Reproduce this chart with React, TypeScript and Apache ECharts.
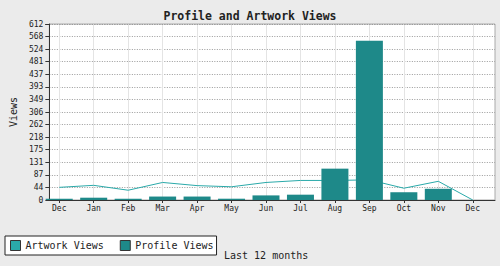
import React, { useEffect, useRef } from "react";
import * as echarts from "echarts";

const categories = ["Dec", "Jan", "Feb", "Mar", "Apr", "May", "Jun", "Jul", "Aug", "Sep", "Oct", "Nov", "Dec"];
const artworkViews = [44, 51, 34, 61, 50, 46, 61, 68, 68, 70, 41, 65, 0];
const profileViews = [4.5, 8, 4.5, 12, 12, 4.5, 16, 18.5, 109, 554, 27, 39, 0];
const yTickLabels = ["0", "44", "87", "131", "175", "218", "262", "306", "349", "393", "437", "481", "524", "568", "612"];
const yMax = 612;

const FONT = "DejaVu Sans Mono";

export default function App() {
  const ref = useRef<HTMLDivElement>(null);
  useEffect(() => {
    if (!ref.current) return;
    const chart = echarts.init(ref.current, null, { renderer: "svg" });
    const step = yMax / (yTickLabels.length - 1);
    // category band geometry of grid 1 (left 42, width 448)
    const g1Left = 42;
    const g1Width = 448;
    const band = g1Width / categories.length;
    const g2Left = g1Left + band / 2;
    const g2Right = 500 - (g1Left + g1Width - band / 2);
    chart.setOption({
      animation: false,
      backgroundColor: "#ebebeb",
      title: {
        text: "Profile and Artwork Views",
        left: "center",
        top: 5,
        textStyle: { fontFamily: FONT, fontSize: 11.5, fontWeight: "bold", color: "#222" },
      },
      legend: {
        left: 5,
        top: 236,
        orient: "horizontal",
        padding: [4, 3, 4, 5],
        itemGap: 16,
        itemWidth: 10,
        itemHeight: 10,
        icon: "rect",
        borderColor: "#222",
        borderWidth: 1,
        backgroundColor: "#fff",
        itemStyle: { borderColor: "#333", borderWidth: 1 },
        textStyle: { fontFamily: FONT, fontSize: 10, color: "#222" },
        data: ["Artwork Views", "Profile Views"],
      },
      graphic: [
        {
          type: "text",
          left: 224,
          top: 250,
          style: { text: "Last 12 months", font: `10px "${FONT}"`, fill: "#222" },
        },
      ],
      grid: [
        { left: 39, top: 24, right: 5, bottom: 66, show: true, backgroundColor: "#fff", borderColor: "#aaa", borderWidth: 1 },
        { left: g1Left, top: 24, right: 500 - g1Left - g1Width, bottom: 66 },
        { left: g2Left, top: 25, right: g2Right, bottom: 67 },
      ],
      xAxis: [
        {
          type: "value",
          gridIndex: 0,
          min: 0,
          max: 1,
          axisLine: { show: true, lineStyle: { color: "#333", width: 1 } },
          axisTick: { show: false },
          axisLabel: { show: false },
          splitLine: { show: false },
        },
        {
          type: "category",
          gridIndex: 1,
          data: categories,
          boundaryGap: true,
          axisLine: { show: false },
          axisTick: { show: true, alignWithLabel: true, length: 3, lineStyle: { color: "#333" } },
          axisLabel: { fontFamily: FONT, fontSize: 8, color: "#222", margin: 4, interval: 0 },
          splitLine: { show: false },
        },
        {
          type: "value",
          gridIndex: 2,
          min: 0,
          max: categories.length - 1,
          interval: 1,
          axisLine: { show: false },
          axisTick: { show: false },
          axisLabel: { show: false },
          splitLine: { show: true, lineStyle: { color: "#e4e4e4", width: 1 } },
        },
      ],
      yAxis: [
        {
          type: "value",
          gridIndex: 0,
          min: 0,
          max: yMax,
          interval: step,
          name: "Views",
          nameLocation: "middle",
          nameRotate: 90,
          nameGap: 24,
          nameTextStyle: { fontFamily: FONT, fontSize: 10, color: "#222" },
          axisLine: { show: true, lineStyle: { color: "#333", width: 1 } },
          axisTick: { show: true, length: 4, lineStyle: { color: "#333" } },
          axisLabel: {
            fontFamily: FONT,
            fontSize: 8,
            color: "#222",
            margin: 6,
            formatter: (_v: number, i: number) => yTickLabels[i] ?? "",
          },
          splitLine: { show: true, lineStyle: { color: "#999", type: [1, 1.5], width: 1 } },
        },
        {
          type: "value",
          gridIndex: 1,
          min: 0,
          max: yMax,
          interval: step,
          show: false,
          splitLine: { show: false },
        },
        {
          type: "value",
          gridIndex: 2,
          min: 0,
          max: 1,
          show: false,
          splitLine: { show: false },
        },
      ],
      series: [
        {
          name: "Artwork Views",
          type: "line",
          xAxisIndex: 1,
          yAxisIndex: 1,
          data: artworkViews,
          showSymbol: false,
          symbol: "none",
          lineStyle: { color: "#2aa9a9", width: 1 },
          itemStyle: { color: "#2aa9a9" },
          z: 2,
        },
        {
          name: "Profile Views",
          type: "bar",
          xAxisIndex: 1,
          yAxisIndex: 1,
          data: profileViews,
          barWidth: 27,
          itemStyle: { color: "#1e8989", borderWidth: 0 },
          z: 3,
        },
      ],
    });
    return () => chart.dispose();
  }, []);
  return <div ref={ref} style={{ position: "fixed", left: 0, top: 0, width: 500, height: 266 }} />;
}
